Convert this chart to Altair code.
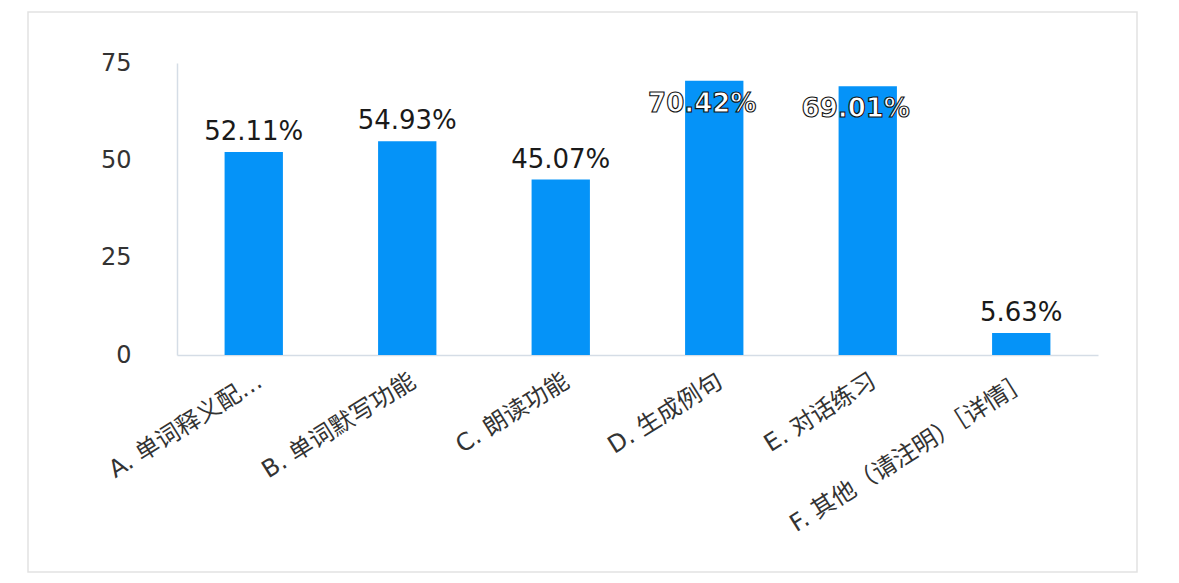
import altair as alt
import pandas as pd

categories = ["A. 单词释义配…", "B. 单词默写功能", "C. 朗读功能", "D. 生成例句", "E. 对话练习", "F. 其他（请注明）［详情］"]
values = [52.11, 54.93, 45.07, 70.42, 69.01, 5.63]
labels = ["52.11%", "54.93%", "45.07%", "70.42%", "69.01%", "5.63%"]
y_ticks = [0, 25, 50, 75]

df = pd.DataFrame({"cat": categories, "value": values, "label": labels})

FONT = "DejaVu Sans, Noto Sans CJK SC"

x = alt.X("cat:N", sort=categories, title=None,
          scale=alt.Scale(paddingInner=0.62, paddingOuter=0.31),
          axis=alt.Axis(labelAngle=-32, labelFontSize=24, labelColor="#333333",
                        labelFont=FONT, labelPadding=14, ticks=False,
                        domainColor="#d5dde6", domainWidth=1.5, labelLimit=400))
y = alt.Y("value:Q", title=None,
          scale=alt.Scale(domain=[0, 75], nice=False),
          axis=alt.Axis(values=y_ticks, grid=False, ticks=False, labelFontSize=24,
                        labelColor="#333333", labelFont=FONT, labelPadding=46,
                        domainColor="#d5dde6", domainWidth=1.5))

base = alt.Chart(df)

border = base.mark_rect(filled=False, stroke="#e2e2e2", strokeWidth=1.5, clip=False).encode(
    x=alt.value(-149), x2=alt.value(960), y=alt.value(-51), y2=alt.value(509)
).transform_filter("datum.cat == 'A. 单词释义配…'")

bars = base.mark_bar(color="#0593F8").encode(x=x, y=y)

text_out = base.mark_text(fontSize=26, font=FONT, color="#1a1a1a", dy=-20,
                          baseline="middle").encode(
    x=alt.X("cat:N", sort=categories), y="value:Q", text="label:N"
).transform_filter("datum.value < 60")

text_in = base.mark_text(fontSize=26, font=FONT, fill="white", stroke="#111111",
                         strokeWidth=1.1, dy=23, dx=-12, baseline="middle",
                         fontWeight="bold").encode(
    x=alt.X("cat:N", sort=categories), y="value:Q", text="label:N"
).transform_filter("datum.value >= 60")

chart = alt.layer(border, bars, text_out, text_in).properties(
    width=921, height=292,
    autosize=alt.AutoSizeParams(type="none"),
    padding={"left": 169, "top": 55, "right": 60, "bottom": 222},
    background="white"
).configure_view(stroke=None)

chart.save("out.html", embed_options={"renderer": "svg", "actions": False})
